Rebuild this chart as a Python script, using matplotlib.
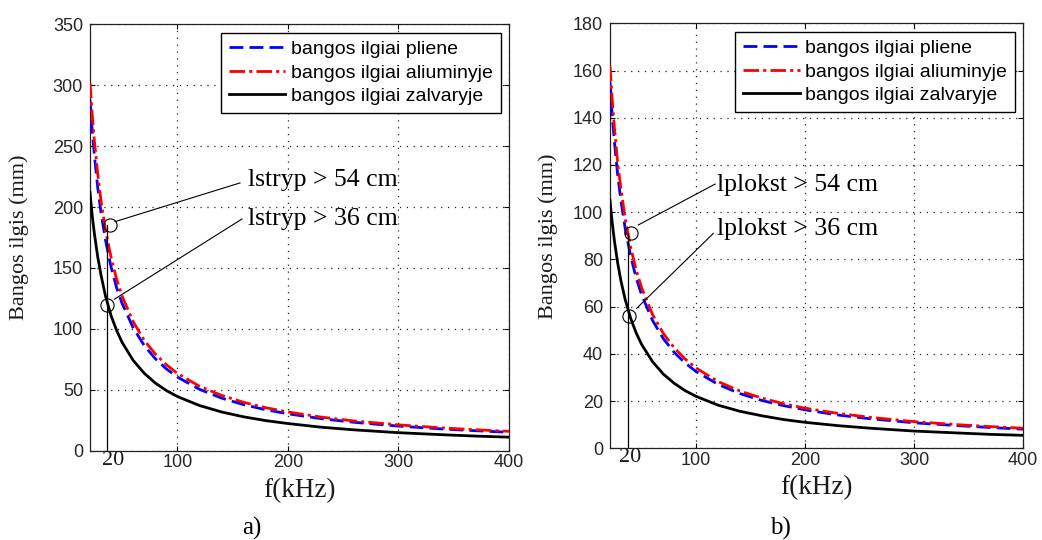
import matplotlib
matplotlib.use("Agg")
import matplotlib.pyplot as plt
from matplotlib.transforms import blended_transform_factory

# ---------------- data ----------------
freq = [21, 23, 25, 28, 31, 35, 40, 45, 50, 60, 70, 80, 90, 100, 120, 140,
        160, 180, 200, 230, 260, 300, 340, 370, 400]

# panel a) longitudinal wave lengths (mm)
a_steel = [288, 263, 242, 216, 195, 173, 151, 134, 121, 101, 86.4, 75.6, 67.2,
           60.5, 50.4, 43.2, 37.8, 33.6, 30.3, 26.3, 23.3, 20.2, 17.8, 16.4, 15.1]
a_alu = [302, 276, 254, 227, 205, 181, 159, 141, 127, 106, 90.7, 79.4, 70.6,
         63.5, 52.9, 45.4, 39.7, 35.3, 31.8, 27.6, 24.4, 21.2, 18.7, 17.2, 15.9]
a_brass = [212, 193, 178, 159, 144, 127, 111, 98.9, 89, 74.2, 63.6, 55.6, 49.4,
           44.5, 37.1, 31.8, 27.8, 24.7, 22.3, 19.3, 17.1, 14.8, 13.1, 12.0, 11.1]

# panel b) wave lengths (mm)
b_steel = [155, 141, 130, 116, 105, 92.9, 81.3, 72.2, 65, 54.2, 46.4, 40.6, 36.1,
           32.5, 27.1, 23.2, 20.3, 18.1, 16.3, 14.1, 12.5, 10.8, 9.6, 8.8, 8.1]
b_alu = [162, 148, 136, 121, 110, 97.1, 85, 75.6, 68, 56.7, 48.6, 42.5, 37.8,
         34, 28.3, 24.3, 21.3, 18.9, 17, 14.8, 13.1, 11.3, 10, 9.2, 8.5]
b_brass = [105, 95.7, 88, 78.6, 71, 62.9, 55, 48.9, 44, 36.7, 31.4, 27.5, 24.4,
           22, 18.3, 15.7, 13.8, 12.2, 11, 9.6, 8.5, 7.3, 6.5, 5.9, 5.5]

legend_labels = ["bangos ilgiai pliene", "bangos ilgiai aliuminyje",
                 "bangos ilgiai zalvaryje"]
x_ticks = [100, 200, 300, 400]
a_yticks = [0, 50, 100, 150, 200, 250, 300, 350]
b_yticks = [0, 20, 40, 60, 80, 100, 120, 140, 160, 180]

# annotation values
a_vline_f, a_vline_top = 36.1, 185.3
a_circles_f = [39.1, 36.1]
a_circles_y = [185.3, 119.6]
a_texts = ["lstryp > 54 cm", "lstryp > 36 cm"]
a_text_xy = [(164.1, 222.0), (164.1, 190.3)]
a_lines = [((43.6, 188.0), (156.7, 219.8)), ((43.0, 124.3), (158.5, 190.2))]
a_mark_f = 42.1

b_vline_f, b_vline_top = 37.8, 91.3
b_circles_f = [40.3, 38.4]
b_circles_y = [91.3, 56.0]
b_texts = ["lplokst > 54 cm", "lplokst > 36 cm"]
b_text_xy = [(118.9, 111.5), (118.9, 92.9)]
b_lines = [((47.0, 94.6), (117.4, 111.9)), ((45.5, 59.3), (115.8, 91.0))]
b_mark_f = 39.8

# ---------------- figure ----------------
fig = plt.figure(figsize=(10.42, 5.40), dpi=100)
axA = fig.add_axes([90 / 1042, 1 - 450.7 / 540, 419 / 1042, 426.4 / 540])
axB = fig.add_axes([610 / 1042, 1 - 448.3 / 540, 413 / 1042, 425 / 540])

SANS = "Liberation Sans"
SERIF = "Liberation Serif"


def draw(ax, steel, alu, brass, yticks, ymax, vf, vtop, cf, cy, texts, txy,
         lines, markf, ylab_x):
    ax.plot(freq, steel, color="#0000ff", lw=2.0, dashes=(5.0, 2.2),
            label=legend_labels[0], zorder=3)
    ax.plot(freq, alu, color="#ff0000", lw=2.0, dashes=(5.6, 1.5, 1.1, 1.5),
            label=legend_labels[1], zorder=3)
    ax.plot(freq, brass, color="black", lw=2.0, label=legend_labels[2],
            zorder=3)
    ax.set_xlim(21, 400)
    ax.set_ylim(0, ymax)
    ax.set_xticks(x_ticks)
    ax.set_yticks(yticks)
    ax.grid(True, color="#222222", linestyle=(0, (1, 4.5)), lw=0.9)
    ax.tick_params(direction="in", top=True, right=True, length=3.5,
                   width=0.8, labelsize=13, labelcolor="#262626")
    ax.tick_params(axis="x", pad=2.5)
    ax.tick_params(axis="y", pad=5)
    for lab in ax.get_xticklabels() + ax.get_yticklabels():
        lab.set_fontfamily(SANS)
    for sp in ax.spines.values():
        sp.set_linewidth(0.9)
        sp.set_color("#222222")

    # vertical marker line and circles
    ax.plot([vf, vf], [0, vtop], color="black", lw=0.9, zorder=4)
    ax.plot(cf, cy, linestyle="none", marker="o", markersize=9.5,
            markerfacecolor="none", markeredgecolor="black",
            markeredgewidth=0.8, zorder=5)
    for (p0, p1) in lines:
        ax.plot([p0[0], p1[0]], [p0[1], p1[1]], color="black", lw=0.8,
                zorder=4)
    for t, (tx, ty) in zip(texts, txy):
        ax.text(tx, ty, t, fontfamily=SERIF, fontsize=18.5, ha="left",
                va="center", color="black", zorder=6)

    trans = blended_transform_factory(ax.transData, ax.transAxes)
    ax.text(markf, -0.022, "20", transform=trans, ha="center", va="center",
            fontfamily=SERIF, fontsize=16, color="#1a1a1a")

    leg = ax.legend(loc="upper right", bbox_to_anchor=(1 - 8 / 415, 1 - 8.4 / 425),
                    borderaxespad=0, fancybox=False, framealpha=1,
                    edgecolor="black", prop={"family": SANS, "size": 14},
                    handlelength=2.9, handletextpad=0.3, labelspacing=0.3,
                    borderpad=0.4)
    leg.get_frame().set_linewidth(1.0)
    leg.set_zorder(10)

    ax.set_xlabel("f(kHz)", fontfamily=SERIF, fontsize=19.5, color="#1a1a1a")
    ax.xaxis.set_label_coords(0.5, -0.064)
    ax.set_ylabel("Bangos ilgis (mm)", fontfamily=SERIF, fontsize=16,
                  color="#1a1a1a")
    ax.yaxis.set_label_coords(ylab_x, 0.5)


draw(axA, a_steel, a_alu, a_brass, a_yticks, 350, a_vline_f, a_vline_top,
     a_circles_f, a_circles_y, a_texts, a_text_xy, a_lines, a_mark_f, -0.145)
draw(axB, b_steel, b_alu, b_brass, b_yticks, 180, b_vline_f, b_vline_top,
     b_circles_f, b_circles_y, b_texts, b_text_xy, b_lines, b_mark_f, -0.125)

fig.text(252 / 1042, 1 - 528 / 540, "a)", ha="center", va="center",
         fontfamily=SERIF, fontsize=18)
fig.text(780 / 1042, 1 - 528 / 540, "b)", ha="center", va="center",
         fontfamily=SERIF, fontsize=18)

fig.savefig("out.png", dpi=100, facecolor="white")
